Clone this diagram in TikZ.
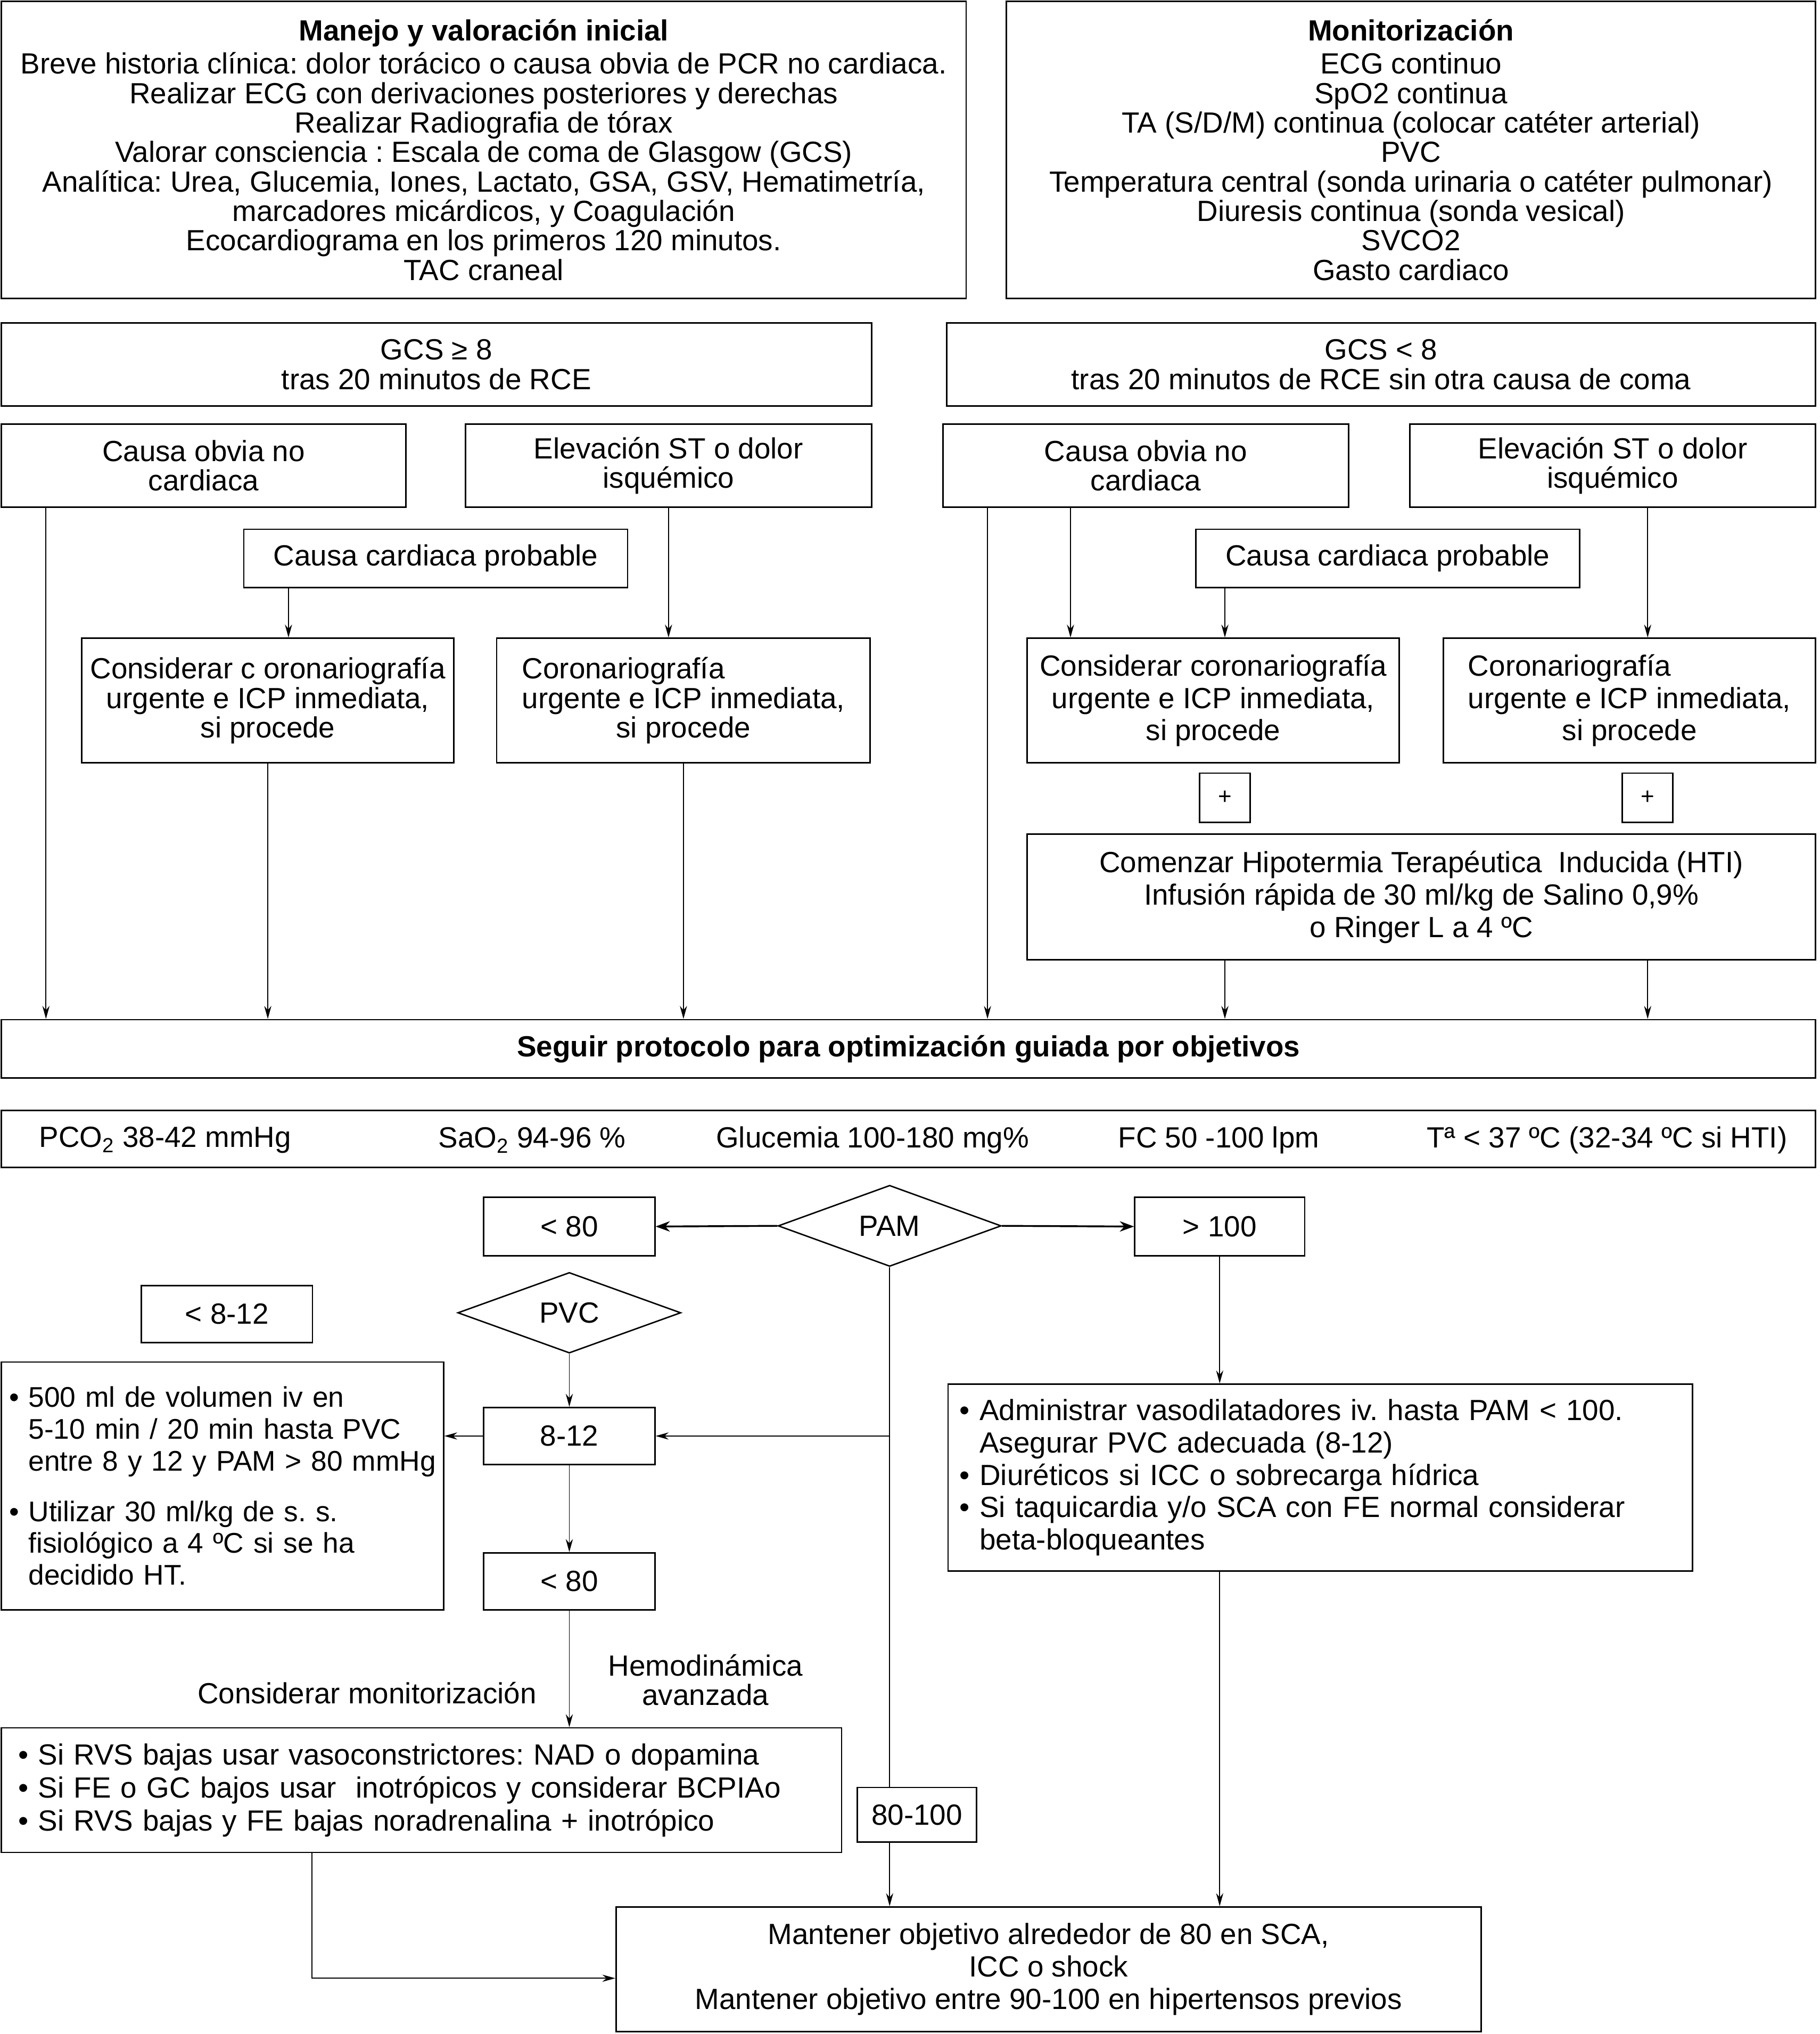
\documentclass[tikz,border=0pt]{standalone}
\usepackage{fontspec}
\setmainfont{Liberation Sans}
\usetikzlibrary{shapes.geometric,arrows.meta,calc}
\frenchspacing
\newcommand\myfs{\fontsize{22.5}{22.7}\selectfont\frenchspacing}
\newcommand\myfsb{\fontsize{22.5}{25}\selectfont\frenchspacing}
\newcommand\myind{\phantom{•}\ }
\begin{document}
\begin{tikzpicture}[x=1pt,y=-1pt,
 box/.style={draw, line width=1.1pt, rectangle, inner sep=0pt, align=center, font=\myfs},
 boxb/.style={box, font=\myfsb},
 sz/.style 2 args={minimum width=#1pt, minimum height=#2pt},
 dia/.style={draw, line width=1.1pt, diamond, inner sep=0pt, font=\myfs},
 lbl/.style={inner sep=0pt, font=\myfs, align=center},
 arr/.style={line width=0.8pt, -{Stealth[length=10pt,width=5.5pt]}},
 tarr/.style={line width=1.4pt, -{Stealth[length=11pt,width=8pt]}},
 ln/.style={line width=0.8pt}]
\useasboundingbox[fill=white] (0,0) rectangle (1403,1568);

% top boxes
\node[box, sz={744}{229}] (mi) at (373,115.5) {\textbf{Manejo y valoración inicial}\\[3pt]
Breve historia clínica: dolor torácico o causa obvia de PCR no cardiaca.\\
Realizar ECG con derivaciones posteriores y derechas\\
Realizar Radiografia de tórax\\
Valorar consciencia : Escala de coma de Glasgow (GCS)\\
Analítica: Urea, Glucemia, Iones, Lactato, GSA, GSV, Hematimetría,\\
marcadores micárdicos, y Coagulación\\
Ecocardiograma en los primeros 120 minutos.\\
TAC craneal};
\node[box, sz={624}{229}] (mon) at (1088,115.5) {\textbf{Monitorización}\\[3pt]
ECG continuo\\
SpO2 continua\\
TA (S/D/M) continua (colocar catéter arterial)\\
PVC\\
Temperatura central (sonda urinaria o catéter pulmonar)\\
Diuresis continua (sonda vesical)\\
SVCO2\\
Gasto cardiaco};

% GCS
\node[box, sz={671}{64}] (gcs1) at (336.5,281) {GCS ≥ 8\\tras 20 minutos de RCE};
\node[box, sz={670}{64}] (gcs2) at (1065,281) {GCS < 8\\tras 20 minutos de RCE sin otra causa de coma};

% causes
\node[box, sz={312}{64}] (cob1) at (157,359) {Causa obvia no\\cardiaca};
\node[box, sz={313}{64}] (est1) at (515.5,359) {Elevación ST o dolor\\isquémico};
\node[box, sz={313}{64}] (cob2) at (883.5,359) {Causa obvia no\\cardiaca};
\node[box, sz={313}{64}] (est2) at (1243.5,359) {Elevación ST o dolor\\isquémico};

\node[box, sz={296}{45}] (ccp1) at (336,430.5) {Causa cardiaca probable};
\node[box, sz={296}{45}] (ccp2) at (1070,430.5) {Causa cardiaca probable};

\node[box, sz={287}{96}] (con1) at (206.5,540) {Considerar c oronariografía\\urgente e ICP inmediata,\\si procede};
\node[box, sz={288}{96}] (cor1) at (527,540) {\makebox[0pt][l]{Coronariografía}\phantom{urgente e ICP inmediata,}\\urgente e ICP inmediata,\\si procede};
\node[boxb, sz={287}{96}] (con2) at (935.5,540) {Considerar coronariografía\\urgente e ICP inmediata,\\si procede};
\node[boxb, sz={287}{96}] (cor2) at (1256.5,540) {\makebox[0pt][l]{Coronariografía}\phantom{urgente e ICP inmediata,}\\urgente e ICP inmediata,\\si procede};

\node[box, sz={39}{38}, font=\fontsize{18}{20}\selectfont] (plus1) at (944.5,615) {+};
\node[box, sz={39}{38}, font=\fontsize{18}{20}\selectfont] (plus2) at (1270.5,615) {+};

\node[boxb, sz={608}{97}] (hti) at (1096,691.5) {Comenzar Hipotermia Terapéutica\ \ Inducida (HTI)\\Infusión rápida de 30 ml/kg de Salino 0,9\%\\o Ringer L a 4 ºC};

\node[box, sz={1399}{45}] (seg) at (700.5,808.5) {\textbf{Seguir protocolo para optimización guiada por objetivos}};

% parameters
\node[box, sz={1399}{44}] (par) at (700.5,878) {};
\node[lbl, anchor=west] (p1) at (30,879) {PCO\textsubscript{2} 38-42 mmHg};
\node[lbl, anchor=west] (p2) at (338,879) {SaO\textsubscript{2} 94-96 \%};
\node[lbl, anchor=west] (p3) at (552,879) {Glucemia 100-180 mg\%};
\node[lbl, anchor=west] (p4) at (862,879) {FC 50 -100 lpm};
\node[lbl, anchor=west] (p5) at (1100,879) {Tª < 37 ºC (32-34 ºC si HTI)};

% PAM section
\node[dia, minimum width=172pt, minimum height=54pt] (pam) at (686,945) {PAM};
\node[box, sz={132}{45}] (lta) at (439,945.5) {< 80};
\node[box, sz={131}{45}] (gt) at (940.5,945.5) {> 100};
\node[box, sz={132}{44}] (lt812) at (175,1013) {< 8-12};
\node[dia, minimum width=172pt, minimum height=54pt] (pvc) at (439,1012) {PVC};
\node[box, sz={132}{44}] (b812) at (439,1107) {8-12};
\node[box, sz={132}{44}] (ltb) at (439,1219) {< 80};
\node[box, sz={92}{42}] (b80) at (707,1399) {80-100};

\node[box, minimum height=191pt, text width=329pt, inner xsep=6pt, align=left, font=\fontsize{21.9}{24.5}\selectfont] (vol) at (171.5,1145.5) {%
• 500 ml de volumen iv en\\
\myind 5-10 min / 20 min hasta PVC\\
\mbox{\myind entre 8 y 12 y PAM > 80 mmHg}\\[14.5pt]
• Utilizar 30 ml/kg de s. s.\\
\myind fisiológico a 4 ºC si se ha\\
\myind decidido HT.};

\node[box, minimum height=144pt, text width=556pt, inner xsep=9pt, align=left, font=\fontsize{22.5}{25}\selectfont] (vaso) at (1018,1139) {%
• Administrar vasodilatadores iv. hasta PAM < 100.\\
\myind Asegurar PVC adecuada (8-12)\\
• Diuréticos si ICC o sobrecarga hídrica\\
• Si taquicardia y/o SCA con FE normal considerar\\
\myind beta-bloqueantes};

\node[lbl] (lcm) at (283,1305) {Considerar monitorización};
\node[lbl] (lha) at (544,1295) {Hemodinámica\\avanzada};

\node[box, minimum height=96pt, text width=622pt, inner xsep=13pt, align=left, font=\fontsize{22.5}{25.5}\selectfont] (rvs) at (325,1380) {%
• Si RVS bajas usar vasoconstrictores: NAD o dopamina\\
• Si FE o GC bajos usar\ \ inotrópicos y considerar BCPIAo\\
• Si RVS bajas y FE bajas noradrenalina + inotrópico};

\node[boxb, sz={667}{96}] (mant) at (808.5,1518) {Mantener objetivo alrededor de 80 en SCA,\\ICC o shock\\Mantener objetivo entre 90-100 en hipertensos previos};

% connectors, upper part
\draw[arr] ([xshift=35pt]cob1.south west) -- ([xshift=35pt]cob1.south west |- seg.north);
\draw[arr] (con1.south) -- (con1.south |- seg.north);
\draw[arr] (cor1.south) -- (cor1.south |- seg.north);
\draw[arr] ([xshift=35pt]cob2.south west) -- ([xshift=35pt]cob2.south west |- seg.north);
\draw[arr] (hti.south -| plus1) -- (seg.north -| plus1);
\draw[arr] (hti.south -| plus2) -- (seg.north -| plus2);
\draw[arr] ([xshift=35pt]ccp1.south west) -- ([xshift=35pt]ccp1.south west |- con1.north);
\draw[arr] (est1.south) -- (est1.south |- cor1.north);
\draw[arr] ([xshift=99pt]cob2.south west) -- ([xshift=99pt]cob2.south west |- con2.north);
\draw[arr] (ccp2.south -| plus1) -- (con2.north -| plus1);
\draw[arr] (est2.south -| plus2) -- (cor2.north -| plus2);

% PAM connectors
\draw[tarr] (pam.west) -- (lta.east);
\draw[tarr] (pam.east) -- (gt.west);
\draw[ln] (pam.south) -- (pam.south |- b80.north);
\draw[arr] (pam.south |- b812.east) -- (b812.east);
\draw[arr] (pam.south |- b80.south) -- (pam.south |- mant.north);
\draw[arr] (pvc.south) -- (b812.north);
\draw[arr] (b812.west) -- (vol.east |- b812.west);
\draw[arr] (b812.south) -- (ltb.north);
\draw[arr] (ltb.south) -- (ltb.south |- rvs.north);
\draw[arr] (gt.south) -- (gt.south |- vaso.north);
\draw[arr] (gt.south |- vaso.south) -- (gt.south |- mant.north);
\draw[arr] ([xshift=240pt]rvs.south west) |- ([yshift=-7pt]mant.west);
\end{tikzpicture}
\end{document}
